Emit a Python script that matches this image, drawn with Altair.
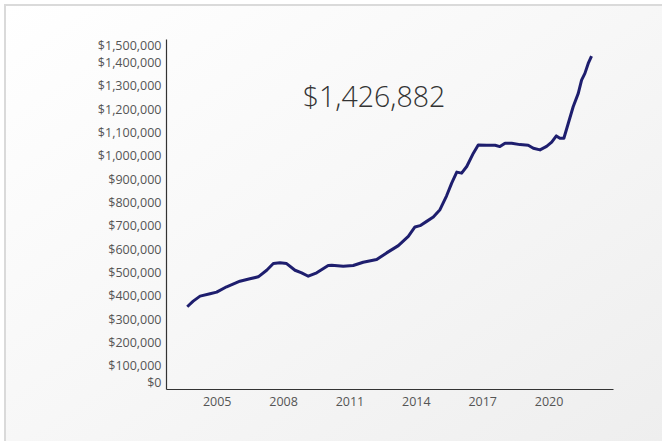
import altair as alt
import pandas as pd

years = [2003.67, 2003.94, 2004.25, 2004.70, 2005.00, 2005.45, 2006.05, 2006.50, 2006.88,
         2007.26, 2007.56, 2007.86, 2008.16, 2008.54, 2008.84, 2009.14, 2009.52, 2010.04,
         2010.20, 2010.72, 2011.17, 2011.62, 2012.23, 2012.68, 2013.21, 2013.66, 2013.96,
         2014.19, 2014.49, 2014.79, 2015.09, 2015.39, 2015.62, 2015.85, 2016.07, 2016.30,
         2016.60, 2016.82, 2017.20, 2017.58, 2017.80, 2018.03, 2018.33, 2018.71, 2019.08,
         2019.31, 2019.61, 2019.91, 2020.14, 2020.35, 2020.51, 2020.69, 2020.89, 2021.11,
         2021.34, 2021.49, 2021.64, 2021.79, 2021.94]
prices = [352600, 376500, 397900, 408100, 415000, 438000, 462000, 472200, 480800,
          509000, 537600, 540600, 537600, 509000, 497900, 483300, 497900, 529100,
          530300, 526100, 529100, 543200, 554700, 583300, 614500, 654300, 694400,
          700000, 718400, 737200, 768400, 828000, 882500, 929500, 925200, 953400,
          1010700, 1046200, 1044900, 1044900, 1038900, 1053400, 1053400, 1047400, 1044900,
          1032100, 1024800, 1039700, 1057700, 1084600, 1074800, 1074800, 1138900, 1209800,
          1267100, 1323900, 1352600, 1395300, 1426882]
y_ticks = list(range(0, 1500001, 100000))
x_ticks = [2005, 2008, 2011, 2014, 2017, 2020]
headline = ["$1,426,882"]

df = pd.DataFrame({"year": years, "price": prices})
FONT = "Open Sans"

bg = alt.Chart(pd.DataFrame({"k": [0]})).mark_rect(
    fill=alt.Gradient(
        gradient="linear",
        stops=[alt.GradientStop(color="#ffffff", offset=0),
               alt.GradientStop(color="#f7f7f7", offset=0.45),
               alt.GradientStop(color="#ececec", offset=1)],
        x1=0, y1=0, x2=1, y2=1),
    stroke="#dadada", strokeWidth=2
).encode(x=alt.value(-161), x2=alt.value(560), y=alt.value(-34), y2=alt.value(460))

line = alt.Chart(df).mark_line(color="#1e1e6e", strokeWidth=3, strokeJoin="round").encode(
    x=alt.X("year:Q", scale=alt.Scale(domain=[2002.71, 2022.91], nice=False, zero=False),
            axis=alt.Axis(values=x_ticks, format="d", title=None, ticks=False, grid=False,
                          domainColor="#333333", domainWidth=1.2, labelColor="#555555",
                          labelFont=FONT, labelFontSize=12.5, labelPadding=6, zindex=2)),
    y=alt.Y("price:Q", scale=alt.Scale(domain=[0, 1500000], nice=False),
            axis=alt.Axis(values=y_ticks, format="$,.0f", title=None, ticks=False, grid=False,
                          labelFlush=True, domainColor="#333333", domainWidth=1.2,
                          labelColor="#555555", labelFont=FONT, labelFontSize=12.5,
                          labelPadding=5, zindex=2)),
)

text = alt.Chart(pd.DataFrame({"t": headline})).mark_text(
    font=FONT, fontSize=28.5, fontWeight=300, color="#333333", align="center", baseline="middle"
).encode(text="t:N", x=alt.value(208), y=alt.value(59))

chart = alt.layer(bg, line, text).properties(
    width=447, height=350,
    autosize=alt.AutoSizeParams(type="none"),
    padding={"left": 166, "top": 39, "right": 49, "bottom": 52},
).configure(background="#ffffff").configure_view(stroke=None)

chart.save("out.html", embed_options={"renderer": "svg", "actions": False})
